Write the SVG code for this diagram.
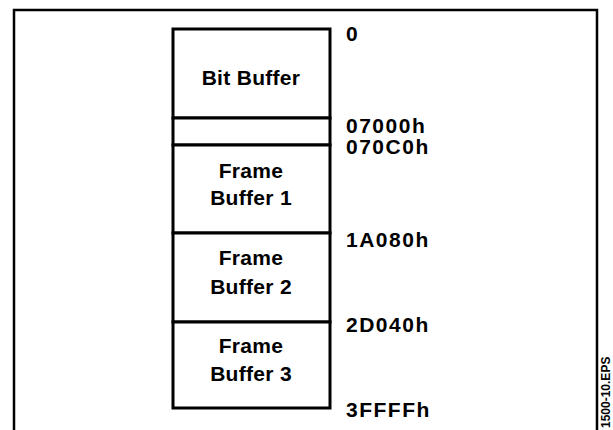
<svg xmlns="http://www.w3.org/2000/svg" width="613" height="430" viewBox="0 0 613 430">
<style>
.frame{fill:none;stroke:#000;stroke-width:2.5}
.box{fill:#fff;stroke:#000;stroke-width:3}
.t{font-family:"Liberation Sans",Arial,sans-serif;font-size:21px;font-weight:bold;fill:#000;text-anchor:middle;letter-spacing:0.3px}
.a{font-family:"Liberation Sans",Arial,sans-serif;font-size:21px;font-weight:bold;fill:#000;letter-spacing:1.5px}
.s{font-family:"Liberation Sans",Arial,sans-serif;font-size:12px;font-weight:bold;fill:#000}
</style>
<rect width="613" height="430" fill="#fff"/>
<path class="frame" d="M14,432 V10 H597 V432"/>
<g id="bit-buffer">
<rect class="box" x="173" y="29" width="157" height="89"/>
<text class="t" x="251" y="85">Bit Buffer</text>
</g>
<g id="gap">
<rect class="box" x="173" y="118" width="157" height="27"/>
</g>
<g id="frame-buffer-1">
<rect class="box" x="173" y="145" width="157" height="88"/>
<text class="t" x="251" y="178">Frame</text>
<text class="t" x="251" y="205">Buffer 1</text>
</g>
<g id="frame-buffer-2">
<rect class="box" x="173" y="233" width="157" height="89"/>
<text class="t" x="251" y="265">Frame</text>
<text class="t" x="251" y="294">Buffer 2</text>
</g>
<g id="frame-buffer-3">
<rect class="box" x="173" y="322" width="157" height="86"/>
<text class="t" x="251" y="353">Frame</text>
<text class="t" x="251" y="381">Buffer 3</text>
</g>
<g id="addresses">
<text class="a" x="346" y="41">0</text>
<text class="a" x="346" y="133">07000h</text>
<text class="a" x="346" y="154">070C0h</text>
<text class="a" x="346" y="247">1A080h</text>
<text class="a" x="346" y="332">2D040h</text>
<text class="a" x="346" y="417">3FFFFh</text>
</g>
<text class="s" transform="translate(610,428) rotate(-90)">1500-10.EPS</text>
</svg>
